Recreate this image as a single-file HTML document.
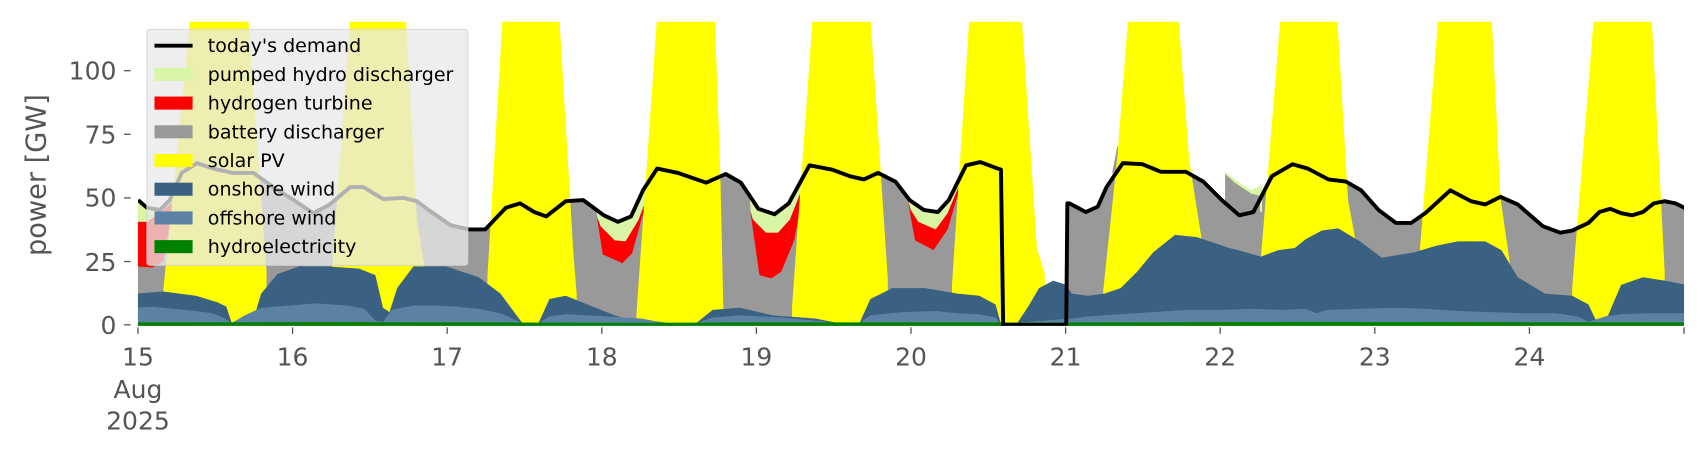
<!DOCTYPE html>
<html><head><meta charset="utf-8">
<style>
html,body{margin:0;padding:0;background:#fff;}
svg{display:block;}
text{font-family:"DejaVu Sans","Liberation Sans",sans-serif;}
</style></head>
<body>
<svg id="s" width="1706" height="460" viewBox="0 0 1568 423" preserveAspectRatio="none" xmlns="http://www.w3.org/2000/svg">
<defs><clipPath id="c"><rect x="126.8" y="20" width="1421" height="279.5"/></clipPath></defs>
<g id="plot" clip-path="url(#c)"></g>
<g id="axes" fill="#555" font-size="23">
<text x="107" y="73" text-anchor="end">100</text>
<text x="107" y="132" text-anchor="end">75</text>
<text x="107" y="190" text-anchor="end">50</text>
<text x="107" y="249" text-anchor="end">25</text>
<text x="107" y="307" text-anchor="end">0</text>
<text transform="translate(42,161) rotate(-90)" text-anchor="middle" font-size="25">power [GW]</text>
</g>
<g id="xt" fill="#555" font-size="23" text-anchor="middle"></g>
<g id="leg"></g>
</svg>
<script>
const NS="http://www.w3.org/2000/svg";
const plot=document.getElementById('plot');
const B=298.7;
function poly(pts,fill,parent){const p=document.createElementNS(NS,'polygon');p.setAttribute('points',pts.map(a=>a[0]+','+a[1]).join(' '));p.setAttribute('fill',fill);(parent||plot).appendChild(p);}
function line(pts,stroke,w,parent){const p=document.createElementNS(NS,'polyline');p.setAttribute('points',pts.map(a=>a[0]+','+a[1]).join(' '));p.setAttribute('fill','none');p.setAttribute('stroke',stroke);p.setAttribute('stroke-width',w);p.setAttribute('stroke-linejoin','round');(parent||plot).appendChild(p);}
function area(top,fill){const pts=top.slice();pts.push([top[top.length-1][0],B+3]);pts.push([top[0][0],B+3]);poly(pts,fill);}
const D=[[125,183],[127,184],[135,191],[147,193],[156,184],[167,159],[181,150],[196,155],[214,159],[233,159],[251,172],[270,184],[288,196],[303,188],[322,172],[334,172],[352,183],[371,182],[383,185],[398,196],[414,207],[431,211],[446,211],[465,191],[478,187],[491,195],[502,199],[520,185],[536,184],[555,198],[568,204],[580,199],[591,175],[604,155],[623,159],[649,168],[667,160],[681,168],[697,192],[712,197],[725,187],[744,152],[765,156],[781,162],[794,165],[807,159],[823,167],[836,184],[849,193],[862,195],[872,184],[888,152],[901,149],[917,155],[920,156],[922,298.7],[980,298.7],[981,187],[983,187],[998,195],[1009,190],[1017,172],[1032,150],[1050,151],[1067,158],[1090,158],[1106,167],[1123,184],[1139,198],[1152,195],[1169,162],[1188,151],[1202,155],[1221,165],[1237,167],[1251,175],[1267,193],[1283,205],[1297,205],[1310,196],[1333,175],[1352,185],[1365,188],[1379,181],[1395,188],[1418,208],[1434,214],[1445,212],[1460,205],[1470,195],[1480,192],[1490,196],[1500,198],[1510,195],[1520,187],[1530,185],[1540,187],[1550,192]];
function dY(x){for(let i=0;i<D.length-1;i++){if(x>=D[i][0]&&x<=D[i+1][0]){const t=(x-D[i][0])/(D[i+1][0]-D[i][0]||1);return D[i][1]+t*(D[i+1][1]-D[i][1]);}}return 190;}
area(D,'#999999');
poly([[1022,160],[1027,134],[1033,150]],'#999999');
function patch(xa,xb,hTop,hBot){const top=[];for(let x=xa;x<=xb;x+=2)top.push([x,dY(x)]);poly(top.concat(hTop.slice().reverse()),'#d9f5a6');poly(hTop.concat(hBot.slice().reverse()),'#ff0000');}
patch(548,598,[[549,200],[552,208],[565,221],[575,222],[587,202],[597,175]],[[549,202],[554,234],[572,242],[581,233],[596,178],[597,175]]);
patch(689,740,[[690,195],[692,202],[704,214],[715,214],[726,202],[739,169]],[[690,197],[698,253],[709,256],[718,250],[730,221],[739,172]]);
patch(834,884,[[835,186],[837,193],[844,204],[860,211],[871,196],[883,167]],[[835,188],[841,221],[858,230],[871,211],[883,170]]);
poly([[125,184],[135,191],[147,193],[147,196],[135,204],[125,204]],'#d9f5a6');
poly([[125,204],[135,204],[147,196],[160,185],[150,240],[140,246],[125,245]],'#ff0000');
poly([[1126,158],[1135,165],[1150,175],[1160,170],[1160,195],[1150,192],[1135,180],[1126,165]],'#d9f5a6');
poly([[1126,160],[1135,168],[1150,178],[1158,180],[1158,195],[1139,198],[1126,184]],'#999999');
poly([[1360,170],[1370,175],[1380,178],[1380,182],[1365,188],[1360,185]],'#d9f5a6');
const S=[
[[150,268],[175,15],[228,15],[245,250]],
[[305,250],[322,15],[373,15],[383,200],[390,245]],
[[448,254],[462,15],[514,15],[527,233],[530,270]],
[[585,288],[604,15],[657,15],[662,159],[665,290]],
[[728,282],[747,15],[800,15],[816,257]],
[[875,262],[891,15],[939,15],[953,228],[960,251],[962,298]],
[[1014,267],[1027,144],[1037,15],[1083,15],[1093,147],[1103,211],[1106,230]],
[[1159,236],[1177,15],[1229,15],[1239,184],[1247,227]],
[[1305,230],[1322,15],[1371,15],[1379,181],[1389,251]],
[[1445,265],[1465,15],[1518,15],[1530,250]]];
S.forEach(s=>area(s,'#ffff00'));
area([[125,270],[150,268],[180,272],[200,278],[208,282],[213,297],[232,297],[240,270],[255,252],[275,245],[300,245],[330,247],[345,253],[352,283],[358,287],[365,265],[380,245],[410,245],[440,255],[460,270],[480,297],[495,297],[505,275],[520,272],[540,280],[565,290],[590,297],[640,297],[655,285],[680,283],[710,290],[750,293],[770,297],[790,297],[800,275],[820,265],[850,265],[880,270],[900,272],[915,280],[920,298],[935,297],[945,282],[955,265],[968,258],[980,262],[985,270],[1000,272],[1015,270],[1030,265],[1045,250],[1060,232],[1080,216],[1100,218],[1130,228],[1145,232],[1159,236],[1175,230],[1190,228],[1200,220],[1215,212],[1230,210],[1250,222],[1270,237],[1300,232],[1320,226],[1340,222],[1365,222],[1380,230],[1395,255],[1420,270],[1445,272],[1460,280],[1468,297],[1478,290],[1490,262],[1510,255],[1530,258],[1550,262]],'#3b6182');
area([[125,283],[140,282],[160,284],[180,286],[195,288],[205,292],[213,297],[225,290],[240,283],[265,281],[290,279],[320,281],[335,284],[345,295],[352,296],[360,285],[380,281],[400,281],[420,282],[440,284],[460,288],[475,295],[480,297],[495,297],[505,291],[520,289],[560,291],[590,293],[600,295],[615,297],[640,297],[655,292],[680,290],[720,292],[750,295],[770,297],[790,297],[800,290],[830,287],[860,286],[880,288],[900,289],[915,292],[920,298],[945,296],[970,294],[985,293],[1000,291],[1030,289],[1060,287],[1090,285],[1120,285],[1150,284],[1180,285],[1200,284],[1210,288],[1220,285],[1250,284],[1280,283],[1310,284],[1340,286],[1370,287],[1400,288],[1430,288],[1450,291],[1460,296],[1475,291],[1490,289],[1520,288],[1550,288]],'#5b82a4');
area([[125,296.5],[300,296.2],[600,296.8],[700,296.4],[1000,296.6],[1200,296],[1400,296.3],[1550,296.5]],'#008000');
line(D.filter(p=>p[0]>=126),'#000',3.6);
const ax=document.getElementById('axes');
[65,123.5,182,240.5,298.7].forEach(y=>line([[114,y],[120,y]],'#555',1.2,ax));
const xt=document.getElementById('xt');
for(let d=0;d<=10;d++){const x=126.8+142.1*d;line([[x,301],[x,307]],'#555',1.2,xt);if(d<10){const t=document.createElementNS(NS,'text');t.setAttribute('x',x);t.setAttribute('y',336);t.textContent=String(15+d);xt.appendChild(t);}}
[['Aug',366],['2025',395]].forEach(a=>{const t=document.createElementNS(NS,'text');t.setAttribute('x',126.8);t.setAttribute('y',a[1]);t.textContent=a[0];xt.appendChild(t);});
const lg=document.getElementById('leg');
const r=document.createElementNS(NS,'rect');r.setAttribute('x',135);r.setAttribute('y',27);r.setAttribute('width',295);r.setAttribute('height',217);r.setAttribute('rx',3);r.setAttribute('fill','rgba(232,232,232,0.76)');r.setAttribute('stroke','rgba(210,210,210,0.8)');lg.appendChild(r);
const items=[['today\'s demand',null],['pumped hydro discharger','#d9f5a6'],['hydrogen turbine','#ff0000'],['battery discharger','#999999'],['solar PV','#ffff00'],['onshore wind','#3b6182'],['offshore wind','#5b82a4'],['hydroelectricity','#008000']];
items.forEach((it,i)=>{const y=42+i*26.4;
 if(it[1]===null){line([[142,y],[177,y]],'#000',3.6,lg);}else{const q=document.createElementNS(NS,'rect');q.setAttribute('x',142);q.setAttribute('y',y-6);q.setAttribute('width',35);q.setAttribute('height',12);q.setAttribute('fill',it[1]);lg.appendChild(q);}
 const t=document.createElementNS(NS,'text');t.setAttribute('x',191);t.setAttribute('y',y+6);t.setAttribute('font-size','17.5');t.setAttribute('fill','#000');t.textContent=it[0];lg.appendChild(t);});
</script>
</body></html>
